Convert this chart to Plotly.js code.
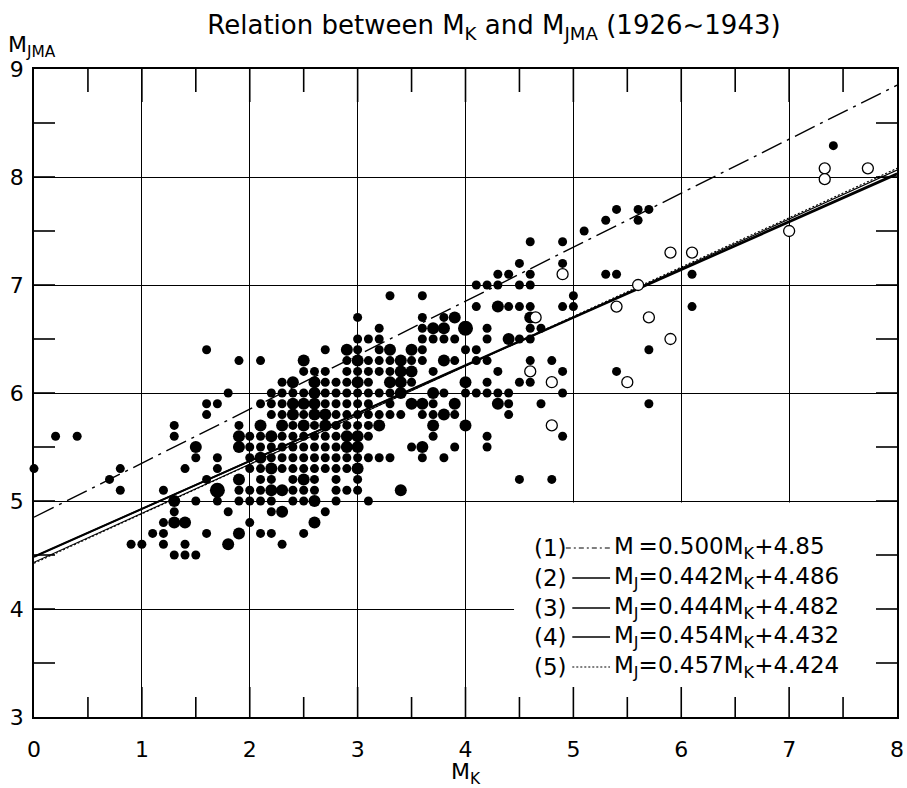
<!DOCTYPE html>
<html>
<head>
<meta charset="utf-8">
<script src="https://cdn.plot.ly/plotly-3.0.1.min.js"></script>
<style>html,body{margin:0;padding:0;background:#fff;}</style>
</head>
<body>
<div id="chart" style="width:907px;height:788px;"></div>
<script>
// ---------- DATA ----------
// Small filled dots: one MJMA level per row, list of MK values on that row
const smallRowMj = [8.29,7.7,7.6,7.5,7.4,7.2,7.1,7.0,6.9,6.8,6.7,6.6,6.5,6.4,6.3,6.2,6.1,6.0,5.9,5.8,5.7,5.6,5.5,5.4,5.3,5.2,5.1,5.0,4.9,4.8,4.7,4.6,4.5];
const smallRowMk = [
  [7.41],
  [5.4,5.6,5.7],
  [5.3,5.6],
  [5.1],
  [4.6,4.9],
  [4.5,4.9],
  [4.3,4.4,4.6,5.3,5.4,6.1],
  [4.1,4.2,4.3,4.5,4.6],
  [3.3,3.6,5.0],
  [4.1,4.4,4.5,4.6,4.9,5.0,6.1],
  [3.0,3.6,3.8],
  [3.2,3.6,4.2,4.6,4.7],
  [3.0,3.1,3.2,3.6,3.7,3.8,3.9,4.2,4.5,4.6],
  [1.6,2.7,3.0,3.2,3.6,4.0,4.1,5.7],
  [1.9,2.1,2.9,3.1,3.2,3.3,3.5,3.6,3.9,4.1,4.2,4.6,4.8],
  [2.5,2.6,2.7,2.9,3.0,3.1,3.2,3.3,3.7,4.3,4.9,5.4],
  [2.3,2.7,2.8,2.9,3.1,3.5,4.2,4.5,4.6],
  [1.8,2.2,2.3,2.4,2.5,2.7,2.8,2.9,3.0,3.1,3.2,3.3,3.8,4.0,4.1,4.2,4.3,4.4,4.9],
  [1.6,1.7,2.1,2.2,2.3,2.7,2.8,2.9,3.0,3.1,3.3,3.7,4.4,4.7,5.7],
  [1.6,2.2,2.3,2.5,2.8,2.9,3.0,3.1,3.2,3.3,3.4,3.6,3.7,3.9,4.4],
  [1.3,1.9,2.4,2.6,2.8,2.9,3.0,3.1],
  [0.2,0.4,1.3,2.0,2.1,2.3,2.4,2.5,2.6,2.7,2.8,3.1,3.7,4.2,4.9],
  [2.0,2.1,2.2,2.3,2.4,2.5,2.6,2.7,2.8,3.5,3.9,4.2],
  [1.5,1.7,2.0,2.2,2.3,2.4,2.5,2.6,2.7,2.8,2.9,3.0,3.1,3.2,3.3,3.6,3.8],
  [0.0,0.8,1.4,1.7,2.0,2.1,2.3,2.4,2.5,2.6,2.7,2.8,2.9],
  [0.7,1.6,2.1,2.2,2.4,2.6,2.8,3.0,4.5,4.8],
  [0.8,1.2,1.9,2.0,2.1,2.4,2.5,2.6,2.8,2.9,3.0],
  [1.5,1.7,1.9,2.0,2.1,2.2,2.4,2.5,2.8,3.1],
  [1.3,1.8,2.2,2.7],
  [1.2,2.0],
  [1.1,1.2,1.6,2.1,2.2,2.5],
  [0.9,1.0,1.2,1.4,2.3],
  [1.3,1.4,1.5]
];
// Medium filled dots
const medRowMj = [6.8,6.7,6.6,6.5,6.4,6.3,6.2,6.1,6.0,5.9,5.8,5.7,5.6,5.5,5.4,5.3,5.2,5.1,5.0,4.9,4.8,4.7,4.6];
const medRowMk = [
  [4.3],
  [3.9,4.6],
  [3.7,3.8],
  [4.4],
  [2.9,3.3,3.5],
  [2.5,3.0,3.4,3.8],
  [3.4,3.5],
  [2.4,2.6,3.0,3.3,3.4,4.0],
  [2.6,3.4,3.7],
  [2.4,2.5,2.6,3.5,3.6,3.9,4.3],
  [2.4,2.6,2.7,3.8],
  [2.1,2.3,2.5,2.7,3.2,3.7,4.0],
  [1.9,2.2,2.9,3.0],
  [1.5,1.9,2.9,3.0,3.6],
  [2.1],
  [2.2,3.0],
  [1.9,2.5],
  [2.2,2.3,3.4],
  [1.3,2.6],
  [2.3],
  [1.3,1.4,2.6],
  [1.9],
  [1.8]
];
// Large filled dots
const largeMk = [1.7, 4.0];
const largeMj = [5.1, 6.6];
// Open circles
const openMk = [4.6, 4.65, 4.8, 4.8, 4.9, 5.4, 5.5, 5.6, 5.7, 5.9, 5.9, 6.1, 7.0, 7.33, 7.33, 7.73];
const openMj = [6.2, 6.7, 6.1, 5.7, 7.1, 6.8, 6.1, 7.0, 6.7, 6.5, 7.3, 7.3, 7.5, 8.08, 7.98, 8.08];
// Fitted relations printed on the chart
const lineIds = ['(1)','(2)','(3)','(4)','(5)'];
const lineSlope = [0.500, 0.442, 0.444, 0.454, 0.457];
const lineIntercept = [4.85, 4.486, 4.482, 4.432, 4.424];
const lineLhs = ['M', 'M<sub>J</sub>', 'M<sub>J</sub>', 'M<sub>J</sub>', 'M<sub>J</sub>'];
// Axes
const xRange = [0, 8];
const yRange = [3, 9];
const xMajor = [0,1,2,3,4,5,6,7,8];
const yMajor = [3,4,5,6,7,8,9];
const xMinor = [0.5,1.5,2.5,3.5,4.5,5.5,6.5,7.5];
const yMinor = [3.5,4.5,5.5,6.5,7.5,8.5];

// ---------- BUILD ----------
const W = 907, H = 788, M = {l: 34, r: 10, t: 69, b: 71};
const pxPerX = (W - M.l - M.r) / (xRange[1] - xRange[0]);
const pxPerY = (H - M.t - M.b) / (yRange[1] - yRange[0]);

function flatten(rowMj, rowMk) {
  const x = [], y = [];
  rowMk.forEach((row, i) => row.forEach(v => { x.push(v); y.push(rowMj[i]); }));
  return {x, y};
}
const small = flatten(smallRowMj, smallRowMk);
const med = flatten(medRowMj, medRowMk);

const lineStyles = [
  {width: 1.4, dash: '22px,6px,3px,6px'},
  {width: 1.8, dash: 'solid'},
  {width: 1.8, dash: 'solid'},
  {width: 1.1, dash: 'solid'},
  {width: 1.1, dash: '2px,2px'}
];
const legendDash = ['5px,3px,2px,3px','solid','solid','solid','2px,2px'];

const traces = [];
lineSlope.forEach((a, i) => {
  traces.push({
    type: 'scatter', mode: 'lines', hoverinfo: 'skip', showlegend: false,
    x: xRange.slice(), y: xRange.map(v => a * v + lineIntercept[i]),
    line: Object.assign({color: 'black'}, lineStyles[i])
  });
});

// inward tick marks on all four sides of the frame (fixed pixel lengths)
const tx = [], ty = [];
function xTick(v, lenPx) {
  const d = lenPx / pxPerY;
  tx.push(v, v, null, v, v, null);
  ty.push(yRange[0], yRange[0] + d, null, yRange[1], yRange[1] - d - 3 / pxPerY, null);
}
function yTick(v, lenPx) {
  const d = lenPx / pxPerX;
  tx.push(xRange[0], xRange[0] + d, null, xRange[1], xRange[1] - d, null);
  ty.push(v, v, null, v, v, null);
}
xMinor.forEach(v => xTick(v, 20));
xMajor.slice(1, -1).forEach(v => xTick(v, 30));
yMinor.forEach(v => yTick(v, 21));
yMajor.slice(1, -1).forEach(v => yTick(v, 21));
traces.push({type: 'scatter', mode: 'lines', x: tx, y: ty, hoverinfo: 'skip', showlegend: false,
  line: {color: '#000000', width: 1.6}, connectgaps: false});

const dotBase = {type: 'scatter', mode: 'markers', showlegend: false, cliponaxis: false};
traces.push(Object.assign({}, dotBase, {x: small.x, y: small.y, marker: {color: 'black', size: 9, line: {width: 0}}}));
traces.push(Object.assign({}, dotBase, {x: med.x, y: med.y, marker: {color: 'black', size: 12, line: {width: 0}}}));
traces.push(Object.assign({}, dotBase, {x: largeMk, y: largeMj, marker: {color: 'black', size: 15, line: {width: 0}}}));
traces.push(Object.assign({}, dotBase, {x: openMk, y: openMj, marker: {color: 'white', size: 11, line: {color: 'black', width: 1.3}}}));

const shapes = [
  // blank panel behind the legend (gridlines are not drawn there)
  {type: 'rect', xref: 'x', yref: 'y', x0: 4.45, x1: 8, y0: 3, y1: 4.985,
   fillcolor: 'white', line: {width: 0}, layer: 'between'}
];

// legend block (lower right, inside plot)
const legRowY = [4.565, 4.287, 4.009, 3.741, 3.463];
const annotations = [];
lineIds.forEach((id, i) => {
  const y = legRowY[i];
  annotations.push({xref: 'x', yref: 'y', x: 4.62, y: y, xanchor: 'left', yanchor: 'middle',
    text: id, showarrow: false, font: {size: 23, color: 'black'}});
  shapes.push({type: 'line', xref: 'x', yref: 'y', x0: i === 0 ? 4.93 : 4.99, x1: 5.34, y0: y, y1: y,
    line: {color: 'black', width: i === 0 || i === 4 ? 1.2 : 1.6, dash: legendDash[i]}, layer: 'above'});
  const lhs = i === 0 ? 'M<sub><span style="color:rgba(0,0,0,0)">J</span></sub>' : lineLhs[i];
  annotations.push({xref: 'x', yref: 'y', x: 5.36, y: y, xanchor: 'left', yanchor: 'middle',
    text: lhs + '=' + lineSlope[i].toFixed(3) + 'M<sub>K</sub>+' + String(lineIntercept[i]),
    showarrow: false, font: {size: 23, color: 'black'}});
});
annotations.push({xref: 'paper', yref: 'paper', x: -0.032, y: 1.035, xanchor: 'left', yanchor: 'middle',
  text: 'M<sub>JMA</sub>', showarrow: false, font: {size: 22, color: 'black'}});

const FONT = 'DejaVu Sans, Liberation Sans, sans-serif';
const axisCommon = {
  showgrid: true, gridcolor: 'black', gridwidth: 1, zeroline: false,
  showline: true, linecolor: 'black', linewidth: 1.5, mirror: true,
  tickmode: 'array', ticks: '',
  tickfont: {size: 22, color: 'black'}, automargin: false
};
const layout = {
  width: W, height: H,
  margin: M,
  paper_bgcolor: 'white', plot_bgcolor: 'white',
  font: {family: FONT, color: 'black', size: 22},
  showlegend: false,
  title: {text: 'Relation between M<sub>K</sub> and M<sub>JMA</sub> (1926~1943)',
          x: 494 / W, xanchor: 'center', y: 1 - 25 / H, yanchor: 'middle',
          font: {size: 26, color: 'black'}},
  xaxis: Object.assign({}, axisCommon, {
    range: xRange.slice(), tickvals: xMajor, ticklabelstandoff: 12,
    title: {text: 'M<sub>K</sub>', font: {size: 22, color: 'black'}, standoff: 9}
  }),
  yaxis: Object.assign({}, axisCommon, {
    range: yRange.slice(), tickvals: yMajor, ticklabelstandoff: 4
  }),
  shapes: shapes,
  annotations: annotations
};
Plotly.newPlot('chart', traces, layout, {displayModeBar: false});
</script>
</body>
</html>
